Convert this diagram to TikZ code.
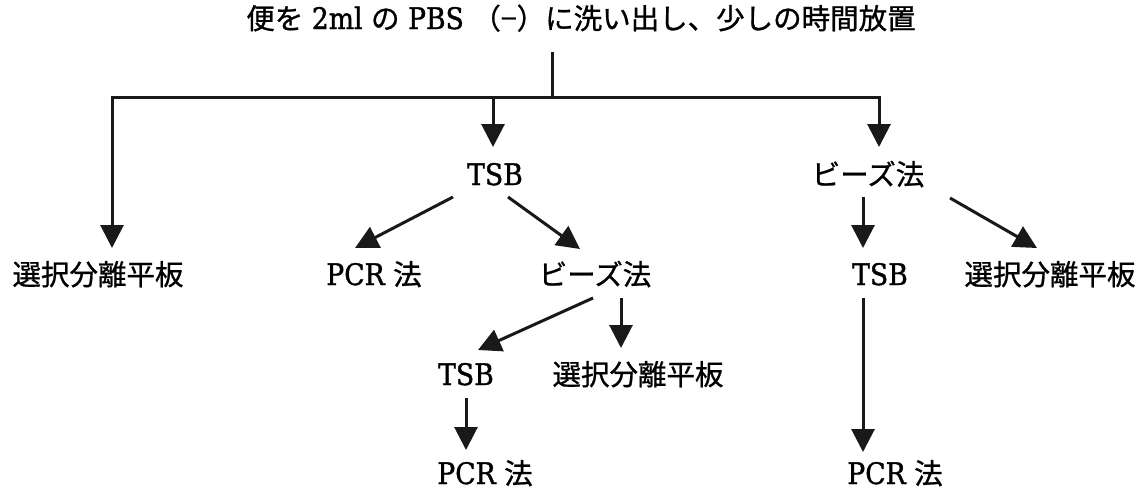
\documentclass[tikz,border=0pt]{standalone}
\usepackage{fontspec}
\setmainfont[FakeStretch=0.9,Scale=1.04,FakeBold=1.2]{DejaVu Serif}
\newfontfamily\jpf[FakeBold=0.9]{Noto Sans CJK JP}
\newcommand\J[1]{{\jpf #1}}
\usetikzlibrary{arrows.meta,calc}
\begin{document}
\begin{tikzpicture}[x=1pt,y=-1pt,
  lbl/.style={inner sep=0pt,anchor=base,font=\fontsize{28.5}{30}\selectfont},
  conn/.style={line width=3pt,black!90},
  arr/.style={conn,-{Triangle[width=23pt,length=23pt]}}]
\useasboundingbox (0,0) rectangle (1146,490);
\fill[white] (0,0) rectangle (1146,490);
% nodes
\node[lbl] (top)  at (581,29)  {\J{便を} 2ml \J{の} PBS \J{（−）}\J{に洗い出し、少しの時間放置}};
\node[lbl] (sel1) at (98,285)  {\J{選択分離平板}};
\node[lbl] (tsb1) at (495,185) {TSB};
\node[lbl] (bz2)  at (868,185) {\J{ビーズ法}};
\node[lbl] (pcr1) at (374,285) {PCR \J{法}};
\node[lbl] (bz1)  at (595,285) {\J{ビーズ法}};
\node[lbl] (tsb3) at (880,285) {TSB};
\node[lbl] (sel3) at (1050,285) {\J{選択分離平板}};
\node[lbl] (tsb2) at (466,385) {TSB};
\node[lbl] (sel2) at (638,385) {\J{選択分離平板}};
\node[lbl] (pcr2) at (485,484) {PCR \J{法}};
\node[lbl] (pcr3) at (895,484) {PCR \J{法}};
% trunk and branches
\coordinate (hub) at ($(top.base)+(-29,68)$);
\draw[conn] ($(top.base)+(-29,23)$) -- (hub);
\draw[arr] (hub) -| ($(sel1.base)+(14,-37)$);
\draw[arr] (hub) -| ($(tsb1.base)+(-2,-38)$);
\draw[arr] (hub) -| ($(bz2.base)+(11,-38)$);
% TSB (middle)
\draw[arr] ($(tsb1.base)+(-42,12)$) -- ($(pcr1.base)+(-19,-37)$);
\draw[arr] ($(tsb1.base)+(13,12)$) -- ($(bz1.base)+(-15,-36)$);
% bead method (right)
\draw[arr] ($(bz2.base)+(-5,12)$) -- ($(tsb3.base)+(-17,-37)$);
\draw[arr] ($(bz2.base)+(82,13)$) -- ($(sel3.base)+(-13,-37)$);
% bead method (middle)
\draw[arr] ($(bz1.base)+(-2,13)$) -- ($(tsb2.base)+(12,-35)$);
\draw[arr] ($(bz1.base)+(26,13)$) -- ($(sel2.base)+(-17,-37)$);
% lower
\draw[arr] ($(tsb2.base)+(0,13)$) -- ($(pcr2.base)+(-19,-34)$);
\draw[arr] ($(tsb3.base)+(-17,13)$) -- ($(pcr3.base)+(-32,-32)$);
\end{tikzpicture}
\end{document}
